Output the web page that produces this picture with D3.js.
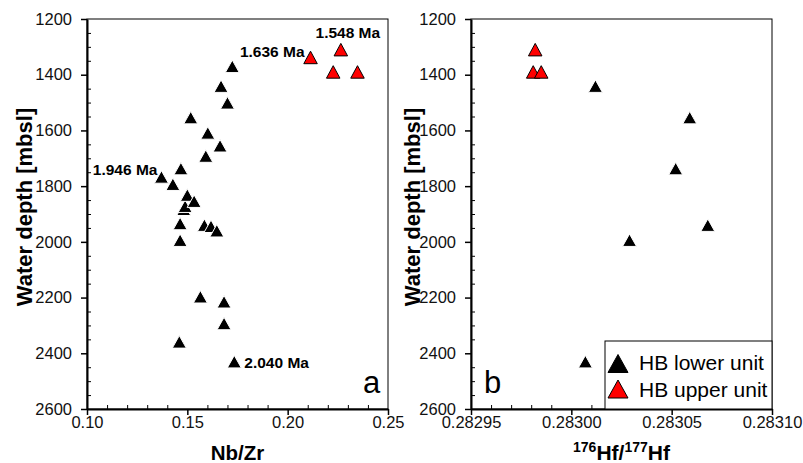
<!DOCTYPE html>
<html>
<head>
<meta charset="utf-8">
<script src="https://cdnjs.cloudflare.com/ajax/libs/d3/7.8.5/d3.min.js"></script>
<style>
  body { margin: 0; background: #fff; }
  svg { display: block; font-family: "Liberation Sans", Arial, sans-serif; }
</style>
</head>
<body>
<svg id="chart" width="803" height="463"></svg>
<script>
// panel a - Nb/Zr against water depth
const nbZrLower = [0.1724, 0.1668, 0.1700, 0.1517, 0.1602, 0.1663, 0.1592, 0.1468, 0.1371, 0.1428,
  0.1482, 0.1489, 0.1500, 0.1534, 0.1464, 0.1585, 0.1618, 0.1647, 0.1464, 0.1565, 0.1683, 0.1683, 0.1460, 0.1734];
const depthLowerA = [1370, 1441, 1501, 1554, 1609, 1655, 1692, 1737, 1767, 1793,
  1883, 1872, 1832, 1854, 1934, 1940, 1944, 1960, 1994, 2197, 2215, 2293, 2359, 2430];
const nbZrUpper = [0.2114, 0.2265, 0.2227, 0.2348];
const depthUpperA = [1338, 1310, 1390, 1390];

// panel b - 176Hf/177Hf against water depth
const hfLower = [0.283012, 0.283059, 0.283052, 0.283068, 0.283029, 0.283007];
const depthLowerB = [1441, 1554, 1737, 1940, 1994, 2430];
const hfUpper = [0.282982, 0.282981, 0.282985];
const depthUpperB = [1310, 1390, 1390];

// ages written next to some samples in panel a
const ageText = ['1.548 Ma', '1.636 Ma', '1.946 Ma', '2.040 Ma'];
const ageNbZr = [0.2265, 0.2114, 0.1371, 0.1734];
const ageDepth = [1310, 1338, 1767, 2430];

const depthTicks = [1200, 1400, 1600, 1800, 2000, 2200, 2400, 2600];
const nbZrTicks = [0.10, 0.15, 0.20, 0.25];
const hfTicks = [0.28295, 0.28300, 0.28305, 0.28310];
const legendNames = ['HB lower unit', 'HB upper unit'];

const svg = d3.select('#chart');
svg.append('rect').attr('width', 803).attr('height', 463).attr('fill', '#fff');

const plotTop = 19, plotBottom = 409;
const y = d3.scaleLinear().domain([1200, 2600]).range([plotTop, plotBottom]);
const xA = d3.scaleLinear().domain([0.10, 0.25]).range([87, 388]);
const xB = d3.scaleLinear().domain([0.28295, 0.28310]).range([471, 772]);

const tri = (w, h) => `M0,${-h / 2}L${w / 2},${h / 2}L${-w / 2},${h / 2}Z`;

const depthMinor = d3.range(1200, 2601, 50).filter(v => v % 200 !== 0);
const nbZrMinor = d3.range(10, 26).filter(i => i % 5).map(i => i / 100);
const hfMinor = d3.range(0, 16).filter(i => i % 5).map(i => 0.28295 + i * 0.00001);

function drawFrame(x, xTicks, xMinor, xFmt) {
  const [x0, x1] = x.range();
  svg.append('rect')
    .attr('x', x0).attr('y', plotTop).attr('width', x1 - x0).attr('height', plotBottom - plotTop)
    .attr('fill', 'none').attr('stroke', '#000').attr('stroke-width', 1);

  // minor ticks point inwards
  svg.append('g').attr('transform', `translate(${x0},0)`)
    .call(d3.axisLeft(y).tickValues(depthMinor).tickSize(-4).tickFormat(''))
    .call(g => g.select('.domain').remove());
  svg.append('g').attr('transform', `translate(0,${plotBottom})`)
    .call(d3.axisBottom(x).tickValues(xMinor).tickSize(-4).tickFormat(''))
    .call(g => g.select('.domain').remove());

  const yAx = svg.append('g').attr('transform', `translate(${x0},0)`)
    .call(d3.axisLeft(y).tickValues(depthTicks).tickSize(6).tickSizeOuter(0).tickPadding(9).tickFormat(d3.format('d')));
  const xAx = svg.append('g').attr('transform', `translate(0,${plotBottom})`)
    .call(d3.axisBottom(x).tickValues(xTicks).tickSize(6).tickSizeOuter(0).tickPadding(1).tickFormat(xFmt));

  [yAx, xAx].forEach(g => {
    g.select('.domain').attr('stroke-width', 2);
    g.selectAll('.tick line').attr('stroke-width', 1.5);
    g.selectAll('text').attr('font-size', 16.5).attr('fill', '#111')
      .attr('font-family', '"Liberation Sans", Arial, sans-serif');
  });
  svg.selectAll('.tick line').attr('stroke', '#000');
}

drawFrame(xA, nbZrTicks, nbZrMinor, d3.format('.2f'));
drawFrame(xB, hfTicks, hfMinor, d3.format('.5f'));

function drawPoints(x, xs, ys, fill, stroke, w, h) {
  svg.append('g').selectAll('path')
    .data(xs.map((v, i) => [v, ys[i]]))
    .join('path')
    .attr('d', tri(w, h))
    .attr('transform', d => `translate(${x(d[0])},${y(d[1])})`)
    .attr('fill', fill).attr('stroke', stroke).attr('stroke-width', 1);
}

drawPoints(xA, nbZrLower, depthLowerA, '#000', '#fff', 14, 12.5);
drawPoints(xA, nbZrUpper, depthUpperA, '#f00', '#000', 13.5, 12.5);
drawPoints(xB, hfLower, depthLowerB, '#000', '#fff', 14, 12.5);
drawPoints(xB, hfUpper, depthUpperB, '#f00', '#000', 13.5, 12.5);

// age labels, offset from their sample
const ageOffset = [[7, -12, 'middle'], [-6, 0, 'end'], [-4, -2, 'end'], [10, 6, 'start']];
svg.append('g').selectAll('text')
  .data(ageText)
  .join('text')
  .attr('x', (d, i) => xA(ageNbZr[i]) + ageOffset[i][0])
  .attr('y', (d, i) => y(ageDepth[i]) + ageOffset[i][1])
  .attr('text-anchor', (d, i) => ageOffset[i][2])
  .attr('font-size', 15.5).attr('font-weight', 'bold')
  .text(d => d);

// panel letters
svg.append('text').attr('x', 363).attr('y', 393).attr('font-size', 31).text('a');
svg.append('text').attr('x', 484).attr('y', 393).attr('font-size', 31).text('b');

// axis titles
svg.append('text').attr('x', (xA(0.10) + xA(0.25)) / 2).attr('y', 460)
  .attr('text-anchor', 'middle').attr('font-size', 20.5).attr('font-weight', 'bold').text('Nb/Zr');

const hfTitle = svg.append('text').attr('x', (xB(0.28295) + xB(0.28310)) / 2).attr('y', 460)
  .attr('text-anchor', 'middle').attr('font-size', 21).attr('font-weight', 'bold');
hfTitle.append('tspan').attr('font-size', 14).attr('dy', -8).text('176');
hfTitle.append('tspan').attr('dy', 8).text('Hf/');
hfTitle.append('tspan').attr('font-size', 14).attr('dy', -8).text('177');
hfTitle.append('tspan').attr('dy', 8).text('Hf');

[[31.5, 207], [420, 207]].forEach(([tx, ty]) => {
  svg.append('text')
    .attr('transform', `translate(${tx},${ty}) rotate(-90)`)
    .attr('text-anchor', 'middle').attr('font-size', 22).attr('font-weight', 'bold')
    .text('Water depth [mbsl]');
});

// legend
const lg = svg.append('g').attr('transform', 'translate(605,341)');
lg.append('rect').attr('width', 167).attr('height', 68)
  .attr('fill', '#fff').attr('stroke', '#000').attr('stroke-width', 1);
const legendFill = ['#000', '#f00'];
legendNames.forEach((name, i) => {
  lg.append('path').attr('d', tri(20, 18))
    .attr('transform', `translate(13,${22.5 + i * 25.5})`)
    .attr('fill', legendFill[i]).attr('stroke', '#000').attr('stroke-width', 1);
  lg.append('text').attr('x', 34).attr('y', 29 + i * 26.5).attr('font-size', 21).text(name);
});
</script>
</body>
</html>
